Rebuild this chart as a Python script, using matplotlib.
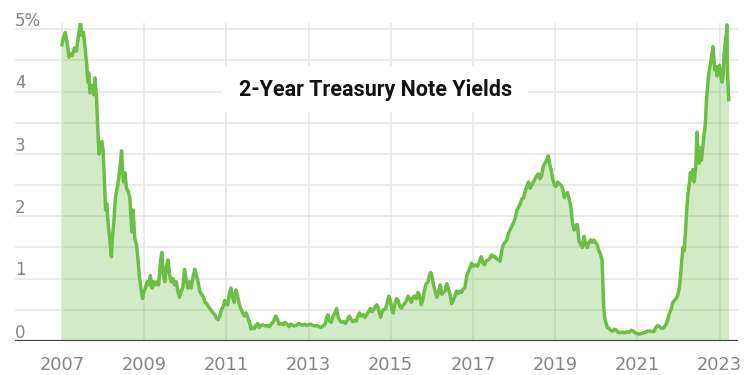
import matplotlib
matplotlib.use("Agg")
import matplotlib.pyplot as plt
from matplotlib.patches import Rectangle

# ---- data (decimal year, 2-year Treasury yield in %) ----
years = [
    2007.00, 2007.03, 2007.08, 2007.12, 2007.17, 2007.21, 2007.25, 2007.30, 2007.35, 2007.40,
    2007.45, 2007.48, 2007.52, 2007.56, 2007.60, 2007.63, 2007.65, 2007.68, 2007.72, 2007.77,
    2007.80, 2007.84, 2007.87, 2007.90, 2007.94, 2007.97,
    2008.00, 2008.03, 2008.06, 2008.09, 2008.12, 2008.16, 2008.20, 2008.23, 2008.26, 2008.30,
    2008.34, 2008.38, 2008.42, 2008.45, 2008.47, 2008.50, 2008.53, 2008.57, 2008.61, 2008.65,
    2008.70, 2008.73, 2008.77, 2008.81, 2008.85, 2008.88, 2008.92, 2008.96, 2008.99,
    2009.03, 2009.07, 2009.11, 2009.15, 2009.19, 2009.23, 2009.27, 2009.31, 2009.35, 2009.40,
    2009.43, 2009.46, 2009.50, 2009.54, 2009.58, 2009.62, 2009.66, 2009.70, 2009.74, 2009.78,
    2009.82, 2009.86, 2009.90, 2009.94, 2009.98,
    2010.02, 2010.06, 2010.10, 2010.14, 2010.18, 2010.23, 2010.27, 2010.31, 2010.35, 2010.40,
    2010.44, 2010.48, 2010.52, 2010.56, 2010.60, 2010.64, 2010.68, 2010.72, 2010.76, 2010.80,
    2010.84, 2010.88, 2010.92, 2010.96, 2010.99,
    2011.03, 2011.07, 2011.11, 2011.15, 2011.19, 2011.23, 2011.27, 2011.31, 2011.35, 2011.40,
    2011.44, 2011.48, 2011.52, 2011.56, 2011.60, 2011.64, 2011.68, 2011.72, 2011.76, 2011.80,
    2011.84, 2011.88, 2011.92, 2011.96,
    2012.00, 2012.05, 2012.10, 2012.15, 2012.20, 2012.24, 2012.28, 2012.33, 2012.38, 2012.42,
    2012.46, 2012.52, 2012.56, 2012.60, 2012.65, 2012.70, 2012.75, 2012.80, 2012.85, 2012.90,
    2012.95,
    2013.00, 2013.05, 2013.10, 2013.15, 2013.20, 2013.25, 2013.30, 2013.35, 2013.40, 2013.44,
    2013.47, 2013.50, 2013.55, 2013.60, 2013.64, 2013.68, 2013.72, 2013.76, 2013.80, 2013.85,
    2013.90, 2013.95, 2013.99,
    2014.03, 2014.07, 2014.12, 2014.16, 2014.20, 2014.24, 2014.28, 2014.33, 2014.37, 2014.42,
    2014.46, 2014.50, 2014.54, 2014.58, 2014.62, 2014.66, 2014.70, 2014.75, 2014.78, 2014.82,
    2014.87, 2014.91, 2014.95, 2014.99,
    2015.03, 2015.06, 2015.10, 2015.14, 2015.18, 2015.22, 2015.26, 2015.30, 2015.34, 2015.38,
    2015.42, 2015.46, 2015.50, 2015.54, 2015.58, 2015.62, 2015.66, 2015.70, 2015.74, 2015.78,
    2015.82, 2015.86, 2015.90, 2015.94, 2015.97,
    2016.00, 2016.04, 2016.08, 2016.12, 2016.16, 2016.20, 2016.24, 2016.28, 2016.32, 2016.36,
    2016.40, 2016.44, 2016.48, 2016.52, 2016.56, 2016.60, 2016.64, 2016.68, 2016.72, 2016.76,
    2016.80, 2016.85, 2016.89, 2016.93, 2016.97,
    2017.01, 2017.06, 2017.11, 2017.16, 2017.20, 2017.24, 2017.28, 2017.32, 2017.37, 2017.41,
    2017.45, 2017.49, 2017.53, 2017.57, 2017.62, 2017.66, 2017.70, 2017.74, 2017.78, 2017.82,
    2017.86, 2017.90, 2017.95, 2017.99,
    2018.03, 2018.07, 2018.11, 2018.15, 2018.19, 2018.23, 2018.27, 2018.31, 2018.35, 2018.39,
    2018.43, 2018.47, 2018.51, 2018.55, 2018.59, 2018.63, 2018.67, 2018.71, 2018.75, 2018.79,
    2018.83, 2018.86, 2018.90, 2018.94, 2018.98,
    2019.02, 2019.06, 2019.10, 2019.14, 2019.18, 2019.22, 2019.26, 2019.30, 2019.34, 2019.38,
    2019.42, 2019.46, 2019.50, 2019.54, 2019.58, 2019.62, 2019.66, 2019.70, 2019.74, 2019.78,
    2019.82, 2019.86, 2019.90, 2019.94, 2019.98,
    2020.02, 2020.06, 2020.10, 2020.14, 2020.16, 2020.18, 2020.20, 2020.23, 2020.27, 2020.31,
    2020.35, 2020.40, 2020.44, 2020.48, 2020.52, 2020.56, 2020.60, 2020.65, 2020.70, 2020.75,
    2020.80, 2020.85, 2020.90, 2020.95,
    2021.00, 2021.05, 2021.10, 2021.15, 2021.20, 2021.25, 2021.30, 2021.35, 2021.40, 2021.45,
    2021.50, 2021.55, 2021.60, 2021.65, 2021.70, 2021.74, 2021.78, 2021.82, 2021.86, 2021.90,
    2021.94, 2021.98,
    2022.02, 2022.05, 2022.08, 2022.11, 2022.14, 2022.17, 2022.20, 2022.23, 2022.26, 2022.29,
    2022.32, 2022.35, 2022.38, 2022.42, 2022.45, 2022.47, 2022.50, 2022.53, 2022.56, 2022.59,
    2022.62, 2022.65, 2022.68, 2022.71, 2022.74, 2022.78, 2022.81, 2022.84, 2022.86, 2022.88,
    2022.91, 2022.94, 2022.97,
    2023.00, 2023.03, 2023.06, 2023.09, 2023.11, 2023.14, 2023.16, 2023.18, 2023.19, 2023.20,
    2023.21, 2023.22,
]
yields = [
    4.75, 4.85, 4.95, 4.80, 4.55, 4.60, 4.58, 4.70, 4.65, 4.90,
    5.10, 4.90, 4.95, 4.70, 4.45, 4.15, 4.30, 3.98, 4.10, 3.95,
    4.22, 3.90, 3.40, 3.00, 3.15, 3.20,
    3.05, 2.60, 2.10, 2.20, 1.90, 1.65, 1.35, 1.70, 1.90, 2.30,
    2.45, 2.60, 2.85, 3.05, 2.75, 2.55, 2.70, 2.45, 2.40, 2.30,
    1.75, 2.10, 1.65, 1.55, 1.30, 1.05, 0.85, 0.68, 0.78,
    0.85, 0.95, 0.90, 1.05, 0.85, 0.95, 0.90, 0.95, 0.90, 1.30,
    1.42, 1.10, 0.95, 1.20, 1.30, 1.05, 0.95, 1.00, 0.90, 0.95,
    0.80, 0.70, 0.80, 0.85, 1.15,
    1.00, 0.85, 0.95, 0.85, 1.00, 1.15, 1.05, 0.95, 0.80, 0.75,
    0.70, 0.62, 0.60, 0.55, 0.52, 0.48, 0.45, 0.42, 0.36, 0.34,
    0.40, 0.50, 0.55, 0.65, 0.60,
    0.58, 0.75, 0.85, 0.70, 0.62, 0.82, 0.72, 0.60, 0.52, 0.45,
    0.40, 0.45, 0.38, 0.30, 0.19, 0.22, 0.20, 0.25, 0.28, 0.22,
    0.25, 0.26, 0.25, 0.24,
    0.25, 0.23, 0.28, 0.32, 0.40, 0.35, 0.27, 0.28, 0.26, 0.30,
    0.28, 0.23, 0.27, 0.26, 0.24, 0.25, 0.28, 0.27, 0.25, 0.27,
    0.25,
    0.26, 0.27, 0.25, 0.24, 0.25, 0.23, 0.22, 0.24, 0.27, 0.38,
    0.42, 0.33, 0.30, 0.40, 0.45, 0.52, 0.38, 0.33, 0.30, 0.31,
    0.28, 0.35, 0.40,
    0.35, 0.31, 0.33, 0.32, 0.40, 0.45, 0.40, 0.42, 0.38, 0.43,
    0.47, 0.52, 0.47, 0.50, 0.55, 0.58, 0.52, 0.38, 0.45, 0.50,
    0.52, 0.60, 0.72, 0.65,
    0.50, 0.45, 0.60, 0.68, 0.65, 0.55, 0.53, 0.58, 0.60, 0.65,
    0.72, 0.68, 0.62, 0.70, 0.72, 0.68, 0.78, 0.72, 0.58, 0.66,
    0.82, 0.92, 0.94, 1.05, 1.10,
    1.05, 0.90, 0.80, 0.70, 0.78, 0.90, 0.75, 0.78, 0.80, 0.92,
    0.85, 0.75, 0.60, 0.65, 0.72, 0.80, 0.76, 0.80, 0.78, 0.83,
    0.85, 1.05, 1.12, 1.18, 1.25,
    1.20, 1.22, 1.20, 1.28, 1.35, 1.25, 1.22, 1.28, 1.30, 1.33,
    1.38, 1.35, 1.36, 1.32, 1.30, 1.28, 1.45, 1.55, 1.58, 1.62,
    1.72, 1.78, 1.85, 1.90,
    1.98, 2.10, 2.15, 2.20, 2.28, 2.30, 2.40, 2.48, 2.55, 2.45,
    2.50, 2.55, 2.60, 2.65, 2.68, 2.60, 2.65, 2.80, 2.85, 2.90,
    2.97, 2.85, 2.75, 2.60, 2.50,
    2.48, 2.55, 2.52, 2.50, 2.45, 2.30, 2.35, 2.38, 2.28, 2.15,
    1.90, 1.78, 1.85, 1.87, 1.60, 1.55, 1.50, 1.68, 1.55, 1.50,
    1.58, 1.62, 1.58, 1.62, 1.58,
    1.55, 1.45, 1.40, 1.30, 0.90, 0.55, 0.40, 0.30, 0.22, 0.20,
    0.17, 0.16, 0.19, 0.18, 0.15, 0.13, 0.14, 0.14, 0.13, 0.15,
    0.14, 0.17, 0.16, 0.13,
    0.12, 0.11, 0.12, 0.13, 0.14, 0.16, 0.16, 0.15, 0.15, 0.22,
    0.25, 0.22, 0.20, 0.22, 0.27, 0.35, 0.45, 0.50, 0.62, 0.65,
    0.68, 0.73,
    0.85, 1.05, 1.30, 1.50, 1.45, 1.75, 2.10, 2.35, 2.50, 2.70,
    2.60, 2.75, 2.55, 2.80, 3.35, 3.05, 2.85, 3.10, 2.90, 3.10,
    3.30, 3.45, 3.85, 4.10, 4.30, 4.45, 4.60, 4.72, 4.55, 4.35,
    4.40, 4.25, 4.40,
    4.42, 4.25, 4.15, 4.30, 4.60, 4.80, 4.90, 5.07, 4.35, 4.18,
    4.05, 3.87,
]
x_ticks = [2007, 2009, 2011, 2013, 2015, 2017, 2019, 2021, 2023]
y_ticks = [0, 1, 2, 3, 4, 5]
y_tick_labels = ["0", "1", "2", "3", "4", "5%"]
title = "2-Year Treasury Note Yields"

# ---- figure ----
W, H = 750, 375
fig = plt.figure(figsize=(7.5, 3.75), dpi=100)
ax = fig.add_axes([15 / W, 1 - 341 / H, (738 - 15) / W, (341 - 23) / H])

line_col = "#6cbf45"
ax.fill_between(years, yields, 0, color=line_col, alpha=0.3, linewidth=0, zorder=2)
ax.plot(years, yields, color=line_col, linewidth=2.5, zorder=3, solid_joinstyle="round")

ax.set_xlim(2005.856, 2023.448)
ax.set_ylim(0, 5.1)

grid_col = "#e6e6e6"
for xv in x_ticks:
    ax.axvline(xv, color=grid_col, linewidth=1.2, zorder=1)
for k in range(1, 11):
    ax.axhline(k * 0.5, color=grid_col, linewidth=1.2, zorder=1)
ax.axhline(0, color="#444444", linewidth=1.6, zorder=4)

for s in ax.spines.values():
    s.set_visible(False)
ax.set_yticks([])
ax.set_xticks(x_ticks)
ax.set_xticklabels([str(v) for v in x_ticks])
ax.tick_params(axis="x", length=0, pad=11, labelsize=12.8, labelcolor="#858585")
for lab in ax.get_xticklabels():
    lab.set_fontfamily("DejaVu Sans")

for v, lab in zip(y_ticks, y_tick_labels):
    ax.text(0.0, v - 0.01, lab, transform=ax.get_yaxis_transform(),
            ha="left", va="bottom", fontsize=12, color="#858585",
            family="DejaVu Sans", zorder=5)

# white label box behind the title (figure-pixel layout)
fig.patches.append(Rectangle((222 / W, 1 - 112 / H), (528 - 222) / W, (112 - 66) / H,
                             transform=fig.transFigure, facecolor="white",
                             edgecolor="none", zorder=5))
fig.text(376 / W, 1 - 90 / H, title, ha="center", va="center", fontsize=15.5,
         fontweight="bold", family="Roboto", color="#121212", zorder=6)

fig.savefig("out.png", dpi=100)
